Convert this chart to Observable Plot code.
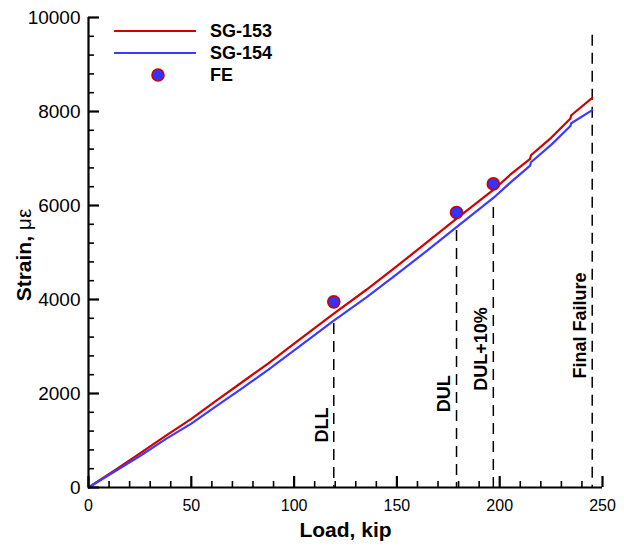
<!DOCTYPE html>
<html>
<head>
<meta charset="utf-8">
<script src="https://cdn.jsdelivr.net/npm/d3@7"></script>
<script src="https://cdn.jsdelivr.net/npm/@observablehq/plot@0.6"></script>
<style>
  html, body { margin: 0; padding: 0; background: #fff; }
  #chart svg { display: block; font-family: "Liberation Sans", Arial, sans-serif; }
</style>
</head>
<body>
<div id="chart"></div>
<script>
// ---- data ----
const loads = [0, 12.5, 25, 37.5, 50, 62.5, 75, 87.5, 100, 119.3, 135, 150, 165, 179, 196.9, 205, 214.8, 215.2, 225, 234.4, 234.8, 245];
const sg153 = [0, 360, 725, 1097, 1460, 1859, 2250, 2643, 3060, 3700, 4202, 4710, 5230, 5720, 6330, 6650, 6990, 7070, 7440, 7850, 7920, 8290];
const sg154 = [0, 335, 670, 1030, 1360, 1740, 2120, 2510, 2920, 3550, 4040, 4540, 5050, 5540, 6160, 6480, 6850, 6920, 7290, 7690, 7750, 8030];

const feLoads = [119.3, 179, 196.9];
const feStrain = [3950, 5850, 6460];

const limitNames = ["DLL", "DUL", "DUL+10%", "Final Failure"];
const limitLoads = [119.3, 179, 196.9, 245];
const limitTops = [3490, 5470, 5960, 9620];
const limitLabelBase = [960, 1600, 2060, 2320];

const xTicks = [0, 50, 100, 150, 200, 250];
const yTicks = [0, 2000, 4000, 6000, 8000, 10000];
const xMinor = d3.range(0, 251, 10).filter(d => d % 50 !== 0);
const yMinor = d3.range(0, 10001, 400).filter(d => d % 2000 !== 0);

const seriesNames = ["SG-153", "SG-154"];
const seriesColors = ["#d20000", "#3b3bff"];

// ---- build tables ----
const red = loads.map((x, i) => ({x, y: sg153[i]}));
const blue = loads.map((x, i) => ({x, y: sg154[i]}));
const fe = feLoads.map((x, i) => ({x, y: feStrain[i]}));
const limits = limitNames.map((name, i) => ({name, x: limitLoads[i], top: limitTops[i], base: limitLabelBase[i]}));

const W = 624, H = 546, mL = 88, mR = 22, mT = 17, mB = 59;
const fw = W - mL - mR, fh = H - mT - mB;
const xDom = [0, 250], yDom = [0, 10000];
const yPerPx = (yDom[1] - yDom[0]) / fh, xPerPx = (xDom[1] - xDom[0]) / fw;
const majLen = 11, minLen = 6;

const chart = Plot.plot({
  width: W, height: H,
  marginLeft: mL, marginRight: mR, marginTop: mT, marginBottom: mB,
  x: {domain: xDom, axis: null},
  y: {domain: yDom, axis: null},
  marks: [
    // dashed limit lines
    Plot.ruleX(limits, {x: "x", y1: "top", y2: 0, stroke: "#000", strokeWidth: 1.5, strokeDasharray: "11,7"}),
    Plot.text(limits, {x: "x", y: "base", text: "name", rotate: -90, textAnchor: "start", lineAnchor: "middle",
      dx: -12, fontSize: 18, fontWeight: "bold", fill: "#000"}),
    // curves
    Plot.line(red, {x: "x", y: "y", stroke: seriesColors[0], strokeWidth: 2.2}),
    Plot.line(blue, {x: "x", y: "y", stroke: seriesColors[1], strokeWidth: 2.2}),
    Plot.dot(fe, {x: "x", y: "y", r: 6, fill: "#3333ff", stroke: "#cc0000", strokeWidth: 1.6}),
    // inward ticks
    Plot.ruleX(xTicks, {x: d => d, y1: 0, y2: majLen * yPerPx, stroke: "#000", strokeWidth: 2.2}),
    Plot.ruleX(xMinor, {x: d => d, y1: 0, y2: minLen * yPerPx, stroke: "#000", strokeWidth: 1.6}),
    Plot.ruleY(yTicks, {y: d => d, x1: 0, x2: majLen * xPerPx, stroke: "#000", strokeWidth: 2.2}),
    Plot.ruleY(yMinor, {y: d => d, x1: 0, x2: minLen * xPerPx, stroke: "#000", strokeWidth: 1.6}),
    // axis lines
    Plot.ruleY([0], {stroke: "#000", strokeWidth: 2.2}),
    Plot.ruleX([0], {stroke: "#000", strokeWidth: 2.2}),
    // tick labels
    Plot.text(xTicks, {x: d => d, y: 0, dy: 18, text: d => String(d), fontSize: 16, lineAnchor: "middle", fill: "#000"}),
    Plot.text(yTicks, {x: 0, y: d => d, dx: -8, text: d => String(d), fontSize: 19, textAnchor: "end", lineAnchor: "middle", fill: "#000"}),
    // x axis title
    Plot.text(["Load, kip"], {frameAnchor: "bottom", dy: 43, fontSize: 21, fontWeight: "bold", lineAnchor: "middle", fill: "#000"})
  ]
});

const svg = d3.select(chart);

// y axis title with mixed weights
const yt = svg.append("text")
  .attr("transform", `translate(31,${mT + fh / 2 + 3}) rotate(-90)`)
  .attr("text-anchor", "middle")
  .attr("font-size", 21)
  .attr("fill", "#000");
yt.append("tspan").attr("font-weight", "bold").text("Strain, ");
yt.append("tspan").attr("font-weight", "normal").text("με");

// legend
const lg = svg.append("g").attr("text-anchor", "start");
const rows = [31, 53, 75];
seriesNames.forEach((name, i) => {
  lg.append("line").attr("x1", 114).attr("x2", 196).attr("y1", rows[i]).attr("y2", rows[i])
    .attr("stroke", seriesColors[i]).attr("stroke-width", 2.2);
  lg.append("text").attr("x", 210).attr("y", rows[i]).attr("dy", "0.36em").attr("text-anchor", "start")
    .attr("font-size", 18).attr("font-weight", "bold").attr("fill", "#000").text(name);
});
lg.append("circle").attr("cx", 158).attr("cy", rows[2]).attr("r", 6)
  .attr("fill", "#3333ff").attr("stroke", "#cc0000").attr("stroke-width", 1.6);
lg.append("text").attr("x", 210).attr("y", rows[2]).attr("dy", "0.36em").attr("text-anchor", "start")
  .attr("font-size", 18).attr("font-weight", "bold").attr("fill", "#000").text("FE");

document.getElementById("chart").appendChild(chart);
</script>
</body>
</html>
